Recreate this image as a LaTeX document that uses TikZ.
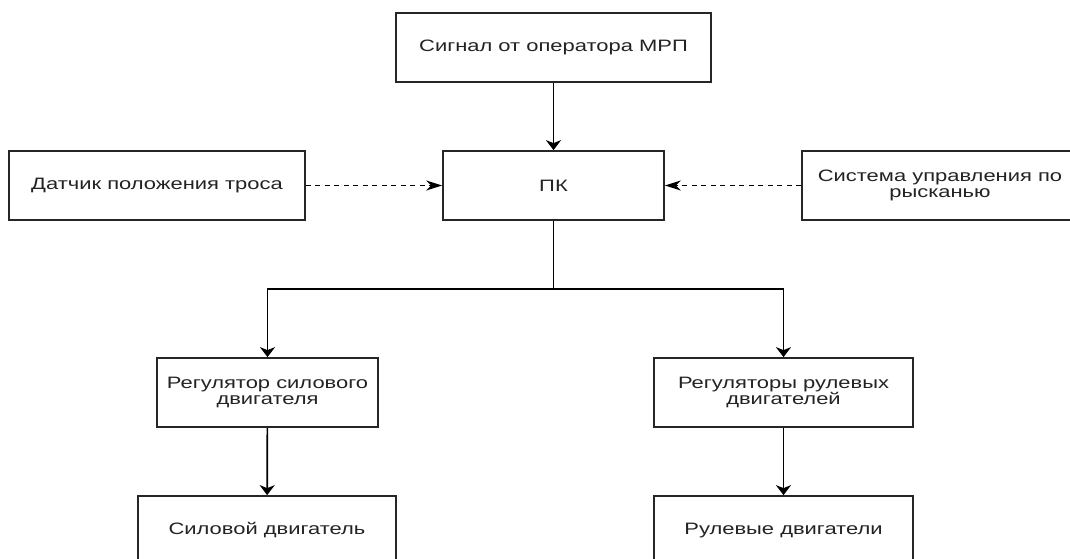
\documentclass[tikz,border=0pt]{standalone}
\usepackage{fontspec}
\setmainfont[FakeStretch=1.33]{Liberation Sans}
\usetikzlibrary{arrows.meta}
\definecolor{txt}{RGB}{35,35,35}
\tikzset{
  blk/.style={draw=black!85, line width=1.7pt, fill=white, inner sep=0pt, align=center,
    text=txt, font=\fontsize{16.5}{15.5}\selectfont},
  varr/.style={line width=1.7pt, -{Stealth[length=10pt, width=15pt, inset=3pt]}},
  harr/.style={line width=1.5pt, dash pattern=on 5pt off 4.5pt,
    -{Stealth[length=16pt, width=10pt, inset=5pt]}},
  ln/.style={line width=1.7pt}
}
\begin{document}
\begin{tikzpicture}[x=1pt,y=-1pt]
\clip (0,0) rectangle (1070,559);
\fill[white] (0,0) rectangle (1070,559);
\node[blk, minimum width=315pt, minimum height=69pt] (sig) at (553.5,47.5) {Сигнал от оператора МРП};
\node[blk, minimum width=221pt, minimum height=69pt] (pk) at (553.5,185.5) {ПК};
\node[blk, minimum width=296pt, minimum height=69pt] (dat) at (157,185.5) {Датчик положения троса};
\node[blk, minimum width=276pt, minimum height=69pt] (sys) at (940,185.5) {Система управления по\\рысканью};
\node[blk, minimum width=221pt, minimum height=69pt] (regl) at (267.5,392.5) {Регулятор силового\\двигателя};
\node[blk, minimum width=259pt, minimum height=69pt] (regr) at (783.5,392.5) {Регуляторы рулевых\\двигателей};
\node[blk, minimum width=258pt, minimum height=69pt] (motl) at (267,530.5) {Силовой двигатель};
\node[blk, minimum width=259pt, minimum height=69pt] (motr) at (783.5,530.5) {Рулевые двигатели};
\coordinate (br) at (553.5,289);
\draw[varr] (sig) -- (pk);
\draw[harr] (dat) -- (pk);
\draw[harr] (sys) -- (pk);
\draw[ln] (pk) -- (br);
\draw[varr] (br) -| (regl);
\draw[varr] (br) -| (regr);
\draw[varr] (regl) -- (motl);
\draw[varr] (regr) -- (motr);
\end{tikzpicture}
\end{document}
